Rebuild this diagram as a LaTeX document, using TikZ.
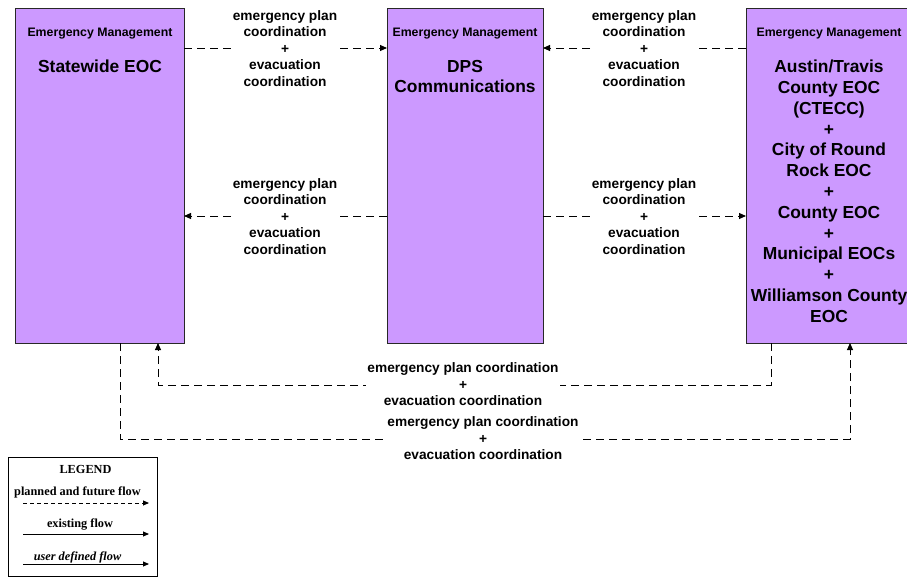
\documentclass[tikz,border=0pt]{standalone}
\usepackage{fontspec}
\setmainfont{Liberation Sans}
\newfontfamily\legfont{Liberation Serif}
\usetikzlibrary{arrows.meta}
\definecolor{boxfill}{RGB}{204,153,255}
\definecolor{boxline}{RGB}{40,40,40}
\tikzset{
  sysbox/.style={draw=boxline, line width=1.2pt, fill=boxfill, minimum width=#1, minimum height=335pt, inner sep=0pt},
  flow/.style={line width=0.9pt, dash pattern=on 8pt off 5pt, -{Triangle[length=7pt,width=6pt]}},
  flowlbl/.style={fill=white, inner sep=1pt, font=\fontsize{13.7}{16.4}\selectfont\bfseries, align=center},
  hdr/.style={font=\fontsize{12.3}{13}\selectfont\bfseries},
  ttl/.style={font=\fontsize{17.4}{20.8}\selectfont\bfseries, align=center, anchor=north},
  legtxt/.style={font=\legfont\fontsize{12.3}{13}\selectfont\bfseries},
  legarrow/.style={line width=0.9pt, -{Triangle[length=6pt,width=5pt]}}
}
\begin{document}
\begin{tikzpicture}[x=1pt,y=-1pt]
\useasboundingbox (0,0) rectangle (907,577);
% boxes
\node[sysbox=169pt, anchor=north west] (sw) at (15,8) {};
\node[sysbox=156pt, anchor=north west] (dps) at (387,8) {};
\node[sysbox=168pt, anchor=north west] (loc) at (746,8) {};
% headers
\node[hdr] (swh) at (100,33.5) {Emergency Management};
\node[hdr] (dpsh) at (465,33.5) {Emergency Management};
\node[hdr] (loch) at (829,33.5) {Emergency Management};
% titles
\node[ttl] (swt) at (100,56.5) {Statewide EOC};
\node[ttl] (dpst) at (465,56.5) {DPS\\Communications};
\node[ttl] (loct) at (829,56.5) {Austin/Travis\\County EOC\\(CTECC)\\+\\City of Round\\Rock EOC\\+\\County EOC\\+\\Municipal EOCs\\+\\Williamson County\\EOC};
% coordinates
\coordinate (a1s) at (184,48); \coordinate (a1e) at (387,48);
\coordinate (a2s) at (746,48); \coordinate (a2e) at (543,48);
\coordinate (a3s) at (387,216); \coordinate (a3e) at (184,216);
\coordinate (a4s) at (543,216); \coordinate (a4e) at (746,216);
\coordinate (b1s) at (771,343); \coordinate (b1a) at (771,385); \coordinate (b1b) at (158,385); \coordinate (b1e) at (158,343);
\coordinate (b2s) at (120,343); \coordinate (b2a) at (120,439); \coordinate (b2b) at (850,439); \coordinate (b2e) at (850,343);
% flows
\draw[flow] (a1s) -- (a1e);
\draw[flow] (a2s) -- (a2e);
\draw[flow] (a3s) -- (a3e);
\draw[flow] (a4s) -- (a4e);
\draw[flow] (b1s) -- (b1a) -- (b1b) -- (b1e);
\draw[flow] (b2s) -- (b2a) -- (b2b) -- (b2e);
% labels
\node[flowlbl] (l1) at (285,48.5) {emergency plan\\coordination\\+\\evacuation\\coordination};
\node[flowlbl] (l2) at (644,48.5) {emergency plan\\coordination\\+\\evacuation\\coordination};
\node[flowlbl] (l3) at (285,216.5) {emergency plan\\coordination\\+\\evacuation\\coordination};
\node[flowlbl] (l4) at (644,216.5) {emergency plan\\coordination\\+\\evacuation\\coordination};
\node[flowlbl] (l5) at (463,384.5) {emergency plan coordination\\+\\evacuation coordination};
\node[flowlbl] (l6) at (483,438.5) {emergency plan coordination\\+\\evacuation coordination};
% legend
\node[draw=black, line width=1pt, minimum width=149pt, minimum height=119pt, anchor=north west, inner sep=0pt] (leg) at (8,457) {};
\node[legtxt] (legt) at (85.5,469) {LEGEND};
\node[legtxt] (lp) at (77.5,492) {planned and future flow};
\node[legtxt] (le) at (80,525) {existing flow};
\node[legtxt, font=\legfont\fontsize{12.3}{13}\selectfont\bfseries\itshape] (lu) at (77.5,557) {user defined flow};
\coordinate (lp1) at (23,503); \coordinate (lp2) at (149,503);
\coordinate (le1) at (23,534); \coordinate (le2) at (149,534);
\coordinate (lu1) at (23,564); \coordinate (lu2) at (149,564);
\draw[legarrow, dash pattern=on 4pt off 3pt] (lp1) -- (lp2);
\draw[legarrow] (le1) -- (le2);
\draw[legarrow] (lu1) -- (lu2);
\end{tikzpicture}
\end{document}
